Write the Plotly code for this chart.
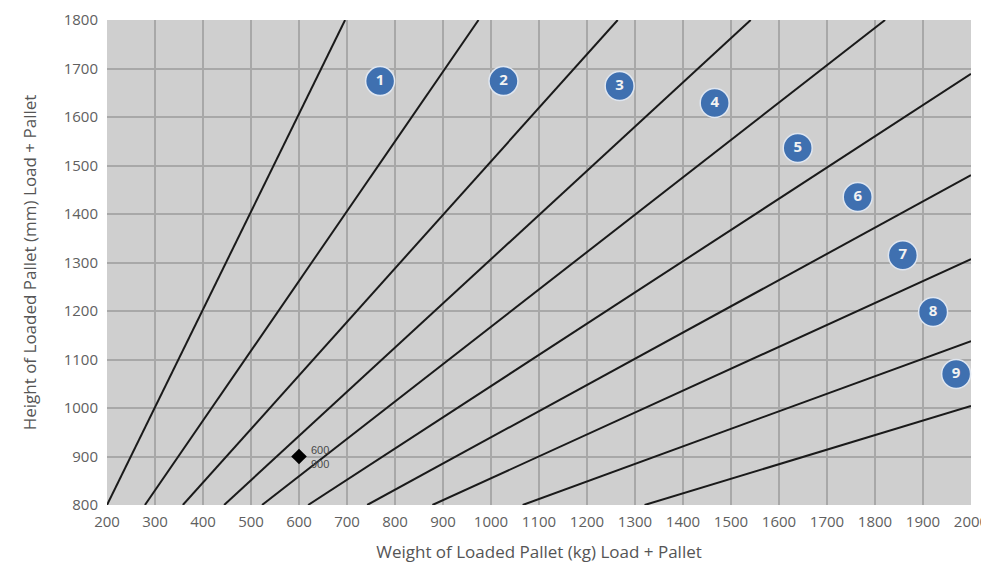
import plotly.graph_objects as go

# zone boundary lines: start point and end point (kg, mm)
x_start = [200, 279, 358, 444, 523, 619, 742, 878, 1066, 1320]
y_start = [800, 800, 800, 800, 800, 800, 800, 800, 800, 800]
x_end = [696, 974, 1264, 1541, 1821, 2000, 2000, 2000, 2000, 2000]
y_end = [1800, 1800, 1800, 1800, 1800, 1689, 1480, 1307, 1138, 1004]

# numbered zone badges
zone_labels = ["1", "2", "3", "4", "5", "6", "7", "8", "9"]
zone_x = [769, 1026, 1268, 1466, 1639, 1764, 1858, 1921, 1969]
zone_y = [1674, 1674, 1664, 1629, 1536, 1435, 1315, 1198, 1070]

# example pallet
sample_x = [600]
sample_y = [900]

fig = go.Figure()

for i in range(len(x_start)):
    fig.add_trace(go.Scatter(
        x=[x_start[i], x_end[i]],
        y=[y_start[i], y_end[i]],
        mode="lines",
        line=dict(color="#1a1a1a", width=2),
        hoverinfo="skip",
    ))

fig.add_trace(go.Scatter(
    x=zone_x, y=zone_y,
    mode="markers+text",
    text=zone_labels,
    textposition="middle center",
    textfont=dict(family="Open Sans", size=15, color="#f2f2f2", weight="bold"),
    marker=dict(size=29, color="#3f70b0", line=dict(color="#dfe6f0", width=1.5)),
    cliponaxis=False,
))

fig.add_trace(go.Scatter(
    x=sample_x, y=sample_y,
    mode="markers",
    marker=dict(symbol="diamond", size=12, color="black"),
))
fig.add_annotation(
    x=sample_x[0], y=sample_y[0],
    text="%d<br>%d" % (sample_x[0], sample_y[0]),
    showarrow=False, xanchor="left", xshift=10,
    font=dict(family="Liberation Sans", size=11, color="#4a4a4a"),
    align="left",
)

axis_font = dict(family="Open Sans", size=15, color="#606060")
title_font = dict(family="Open Sans", size=17, color="#555555")
fig.update_xaxes(
    range=[200, 2000], dtick=100, tick0=200,
    showgrid=True, gridcolor="#a8a8a8", gridwidth=1.5,
    zeroline=False, showline=False,
    ticks="outside", ticklen=3, tickcolor="rgba(0,0,0,0)",
    tickfont=axis_font, automargin=False, ticklabeloverflow="allow",
    title=dict(text="Weight of Loaded Pallet (kg) Load + Pallet",
               font=title_font, standoff=17),
)
fig.update_yaxes(
    range=[800, 1800], dtick=100,
    showgrid=True, gridcolor="#a8a8a8", gridwidth=1.5,
    zeroline=False, showline=False,
    ticks="outside", ticklen=5, tickcolor="rgba(0,0,0,0)",
    tickfont=axis_font, automargin=False, ticklabeloverflow="allow",
    title=dict(text="Height of Loaded Pallet (mm) Load + Pallet",
               font=title_font, standoff=22),
)

# page body has an 8px margin, so the figure is sized to fit the window
fig.update_layout(
    width=981, height=555,
    margin=dict(l=99, r=18, t=12, b=58),
    plot_bgcolor="#cfcfcf",
    paper_bgcolor="white",
    showlegend=False,
)

fig.write_html("out.html")
